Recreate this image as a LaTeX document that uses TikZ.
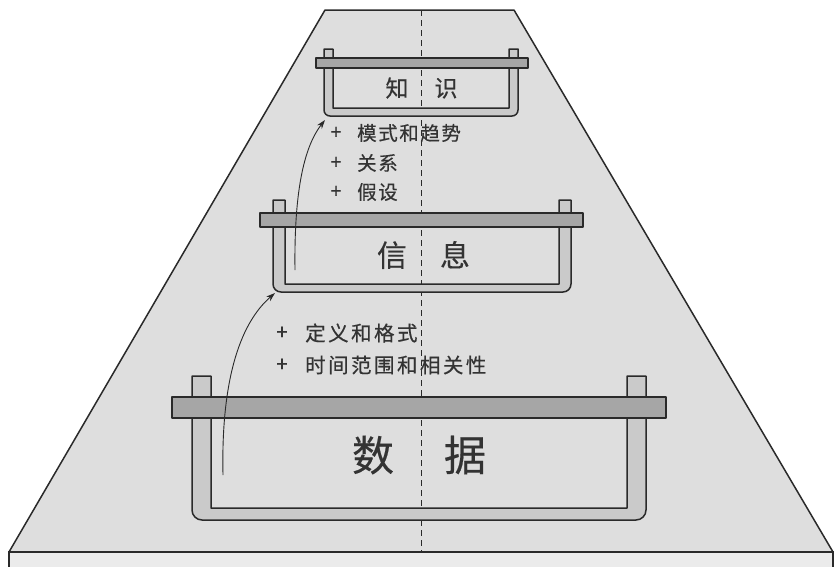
\documentclass[tikz,border=0pt]{standalone}
\usepackage{fontspec}
\newfontfamily\cjk{Noto Sans CJK SC}[FakeBold=0.4]
\newfontfamily\cjka{Noto Sans CJK SC}[FakeBold=0.4,LetterSpace=8]
\newfontfamily\cjkb{Noto Sans CJK SC}[FakeBold=0.4,LetterSpace=12]
\usetikzlibrary{arrows.meta}
\definecolor{trap}{HTML}{DEDEDE}
\definecolor{strip}{HTML}{EBEBEB}
\definecolor{barc}{HTML}{A6A6A6}
\definecolor{wallc}{HTML}{CACACA}
\definecolor{ink}{HTML}{2A2A2A}
\definecolor{txt}{HTML}{333333}
\tikzset{
  outline/.style={draw=ink, line width=1.5pt, line join=round},
  uwall/.style={outline, fill=wallc},
  barbox/.style={outline, fill=barc},
  lbl/.style={text=txt, inner sep=0pt},
  plusa/.style={lbl, font=\cjk\fontsize{19.5}{19.5}\selectfont},
  plusb/.style={lbl, font=\cjk\fontsize{20.5}{20.5}\selectfont},
  smalla/.style={lbl, font=\cjka\fontsize{19.5}{19.5}\selectfont},
  smallb/.style={lbl, font=\cjkb\fontsize{20.5}{20.5}\selectfont},
  arr/.style={draw=ink, line width=0.9pt, -{Stealth[length=9pt,width=6pt]}},
  centerline/.style={draw=ink, line width=0.9pt, dash pattern=on 6pt off 4pt}
}
\begin{document}
\begin{tikzpicture}[x=1pt,y=-1pt]
\useasboundingbox (0,0) rectangle (835,566);
% road
\filldraw[fill=trap, draw=ink, line width=1.5pt, line join=round]
  (325,10) -- (514,10) -- (833,552) -- (9,552) -- cycle;
\fill[strip] (9,552) rectangle (833,570);
\draw[ink, line width=1.5pt] (9,570) -- (9,552) -- (833,552) -- (833,570);
\draw[centerline] (421,10) -- (421,552);

% tray 3 (data)
\filldraw[uwall] (192,376) -- (192,510) arc[start angle=180,end angle=90,radius=10]
  -- (636,520) arc[start angle=90,end angle=0,radius=10] -- (646,376) -- (627,376)
  -- (627,508) -- (211,508) -- (211,376) -- cycle;
\filldraw[barbox] (172,397) rectangle (666,418);
\node[lbl, font=\cjk\fontsize{42}{42}\selectfont] (data) at (419,455) {数\hspace{50pt}据};

% tray 2 (information)
\filldraw[uwall] (273,200) -- (273,284) arc[start angle=180,end angle=90,radius=8]
  -- (563,292) arc[start angle=90,end angle=0,radius=8] -- (571,200) -- (559,200)
  -- (559,284) -- (285,284) -- (285,200) -- cycle;
\filldraw[barbox] (260,213) rectangle (583,227);
\node[lbl, font=\cjk\fontsize{30}{30}\selectfont] (info) at (423.5,255) {信\hspace{33pt}息};

% tray 1 (knowledge)
\filldraw[uwall] (324,49) -- (324,110) arc[start angle=180,end angle=90,radius=6]
  -- (512,116) arc[start angle=90,end angle=0,radius=6] -- (518,49) -- (509,49)
  -- (509,108) -- (333,108) -- (333,49) -- cycle;
\filldraw[barbox] (316,58) rectangle (528,68);
\node[lbl, font=\cjk\fontsize{23}{23}\selectfont] (know) at (421.5,88) {知\hspace{26pt}识};

% lists
\node[plusa] (p1) at (336,133) {+};
\node[smalla, anchor=west] (t1) at (357,133) {模式和趋势};
\node[plusa] (p2) at (336,163) {+};
\node[smalla, anchor=west] (t2) at (357,163) {关系};
\node[plusa] (p3) at (336,192) {+};
\node[smalla, anchor=west] (t3) at (357,192) {假设};
\node[plusb] (p4) at (282,333) {+};
\node[smallb, anchor=west] (t4) at (305,333) {定义和格式};
\node[plusb] (p5) at (282,365) {+};
\node[smallb, anchor=west] (t5) at (305,365) {时间范围和相关性};

% arrows
\coordinate (a1) at (223,475);
\coordinate (b1) at (275,293);
\coordinate (a2) at (295,270);
\coordinate (b2) at (325,120);
\draw[arr] (a1) .. controls (221,385) and (238,325) .. (b1);
\draw[arr] (a2) .. controls (294,195) and (303,148) .. (b2);
\end{tikzpicture}
\end{document}
